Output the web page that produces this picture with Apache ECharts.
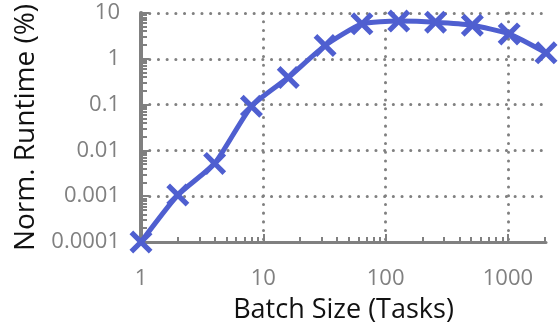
<!DOCTYPE html>
<html>
<head>
<meta charset="utf-8">
<script src="https://cdn.jsdelivr.net/npm/echarts@6/dist/echarts.min.js"></script>
<style>
html,body{margin:0;padding:0;background:#fff;}
#chart{width:560px;height:329px;}
</style>
</head>
<body>
<div id="chart"></div>
<script>
// Data
const batchSizes = [1, 2, 4, 8, 16, 32, 64, 128, 256, 512, 1024, 2048];
const normRuntime = [0.0001, 0.00106, 0.0052, 0.092, 0.39, 1.95, 5.8, 6.65, 6.3, 5.4, 3.5, 1.35];
const xTickLabels = [1, 10, 100, 1000];
const yTickLabels = [0.0001, 0.001, 0.01, 0.1, 1, 10];
const yTickText = ['0.0001', '0.001', '0.01', '0.1', '1', '10'];
const minorMultipliers = [2, 3, 4, 5, 6, 7, 8, 9];
const xDecades = [1, 10, 100, 1000];
const yDecades = [0.0001, 0.001, 0.01, 0.1, 1];

const xMin = 1, xMax = 2048, yMin = 0.0001, yMax = 10;

const minorX = [];
xDecades.forEach(d => minorMultipliers.forEach(m => { const v = d * m; if (v <= xMax) minorX.push(v); }));
const minorY = [];
yDecades.forEach(d => minorMultipliers.forEach(m => minorY.push(+(d * m).toPrecision(3))));

const gray = '#808080';
const blue = '#4f5fd0';
const font = 'Open Sans';

const xPath = 'path://M16,0 L50,34 L84,0 L100,16 L66,50 L100,84 L84,100 L50,66 L16,100 L0,84 L34,50 L0,16 Z';

const dotted = { color: '#808080', width: 3, type: [0.1, 8.6], cap: 'round' };

const chart = echarts.init(document.getElementById('chart'), null, { renderer: 'canvas' });
chart.setOption({
  animation: false,
  backgroundColor: '#fff',
  grid: { left: 141, right: 14, top: 13, bottom: 87, containLabel: false },
  xAxis: [{
    type: 'log', logBase: 10, min: xMin, max: xMax,
    name: 'Batch Size (Tasks)', nameLocation: 'middle', nameGap: 55,
    nameTextStyle: { fontFamily: font, fontSize: 27, color: '#111' },
    axisLine: { show: true, lineStyle: { color: gray, width: 3 } },
    axisTick: { show: true, inside: true, length: 8, customValues: xTickLabels, lineStyle: { color: gray, width: 2 } },
    axisLabel: { show: true, customValues: xTickLabels, margin: 26, fontFamily: font, fontSize: 22, color: gray,
      formatter: v => String(v) },
    splitLine: { show: true, lineStyle: dotted },
    minorTick: { show: false }
  }, {
    type: 'log', logBase: 10, min: xMin, max: xMax, position: 'bottom', gridIndex: 0,
    axisLine: { show: false },
    axisTick: { show: true, inside: true, length: 5, customValues: minorX, lineStyle: { color: gray, width: 2 } },
    axisLabel: { show: false },
    splitLine: { show: false }
  }],
  yAxis: [{
    type: 'log', logBase: 10, min: yMin, max: yMax,
    name: 'Norm. Runtime (%)', nameLocation: 'middle', nameGap: 101,
    nameTextStyle: { fontFamily: font, fontSize: 28, color: '#111' },
    axisLine: { show: true, lineStyle: { color: gray, width: 4 } },
    axisTick: { show: true, inside: true, length: 8, customValues: yTickLabels, lineStyle: { color: gray, width: 2 } },
    axisLabel: { show: true, customValues: yTickLabels, margin: 21, fontFamily: font, fontSize: 22, color: gray,
      formatter: v => { const i = yTickLabels.findIndex(t => Math.abs(Math.log10(t) - Math.log10(v)) < 1e-6); return i >= 0 ? yTickText[i] : ''; } },
    splitLine: { show: true, lineStyle: dotted },
    minorTick: { show: false }
  }, {
    type: 'log', logBase: 10, min: yMin, max: yMax, position: 'left', gridIndex: 0,
    axisLine: { show: false },
    axisTick: { show: true, inside: true, length: 6, customValues: minorY, lineStyle: { color: gray, width: 2 } },
    axisLabel: { show: false },
    splitLine: { show: false }
  }],
  series: [{
    type: 'line',
    xAxisIndex: 0, yAxisIndex: 0,
    data: batchSizes.map((x, i) => [x, normRuntime[i]]),
    smooth: 0.18,
    clip: false,
    lineStyle: { color: blue, width: 5 },
    itemStyle: { color: blue },
    symbol: xPath,
    symbolSize: 23,
    showAllSymbol: true,
    z: 5
  }]
});
</script>
</body>
</html>
